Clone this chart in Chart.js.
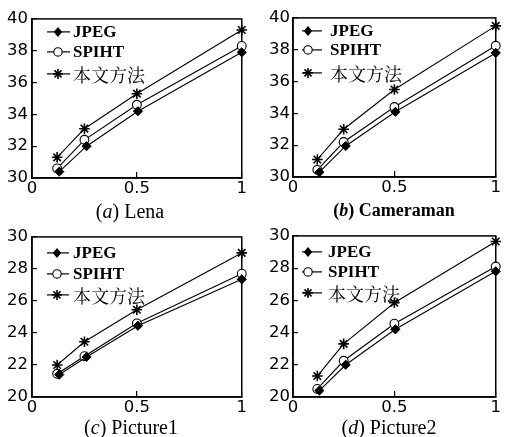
<!DOCTYPE html>
<html><head><meta charset="utf-8">
<script src="https://cdn.jsdelivr.net/npm/chart.js@4.4.1/dist/chart.umd.min.js"></script>
<style>
html,body{margin:0;padding:0;background:#fff}
body{width:508px;height:437px;position:relative;overflow:hidden}
canvas{position:absolute}
.cap{position:absolute;font-family:"Liberation Serif","Times New Roman",serif;font-size:20px;color:#000;white-space:nowrap;transform:translate(-50%,-50%);line-height:1}
</style></head><body>
<canvas id="ca"></canvas>
<canvas id="cb"></canvas>
<canvas id="cc"></canvas>
<canvas id="cd"></canvas>
<div class="cap" style="left:130px;top:211px">(<i>a</i>) Lena</div>
<div class="cap" style="left:394px;top:210px;font-weight:bold;font-size:18px">(<i>b</i>) Cameraman</div>
<div class="cap" style="left:131px;top:427px">(<i>c</i>) Picture1</div>
<div class="cap" style="left:389px;top:427px">(<i>d</i>) Picture2</div>
<script>
// ---- data ----
const seriesNames = ['JPEG', 'SPIHT', '本文方法'];
const xJPEG  = [0.13, 0.26, 0.505, 1];
const xOther = [0.12, 0.25, 0.5, 1];

const lenaJPEG  = [30.4, 32.0, 34.2, 37.9];
const lenaSPIHT = [30.6, 32.4, 34.6, 38.3];
const lenaOurs  = [31.3, 33.1, 35.3, 39.3];

const camJPEG  = [30.3, 31.95, 34.1, 37.8];
const camSPIHT = [30.45, 32.2, 34.4, 38.25];
const camOurs  = [31.1, 33.0, 35.5, 39.5];

const pic1JPEG  = [21.4, 22.5, 24.45, 27.35];
const pic1SPIHT = [21.45, 22.55, 24.6, 27.7];
const pic1Ours  = [22.0, 23.45, 25.45, 29.0];

const pic2JPEG  = [20.4, 22.0, 24.2, 27.8];
const pic2SPIHT = [20.5, 22.25, 24.55, 28.1];
const pic2Ours  = [21.3, 23.3, 25.85, 29.65];

const topYRange = [30, 40];
const bottomYRange = [20, 30];
const yStep = 2;
const xRange = [0, 1];
const xStep = 0.5;
const xTickLabels = { 0: '0', 0.5: '0.5', 1: '1' };

// ---- helpers ----
function drawMarker(g, kind, mx, cy) {
  const r = 5;
  g.save();
  g.strokeStyle = '#000'; g.fillStyle = '#000';
  if (kind === 0) {
    g.beginPath(); g.moveTo(mx, cy - r); g.lineTo(mx + r * 0.85, cy); g.lineTo(mx, cy + r); g.lineTo(mx - r * 0.85, cy); g.closePath(); g.fill();
  } else if (kind === 1) {
    g.beginPath(); g.arc(mx, cy, 4.2, 0, Math.PI * 2); g.fillStyle = '#fff'; g.fill(); g.lineWidth = 1.1; g.stroke();
  } else {
    g.lineWidth = 1.6;
    for (let k = 0; k < 4; k++) {
      const a = k * Math.PI / 4;
      g.beginPath(); g.moveTo(mx - Math.cos(a) * r, cy - Math.sin(a) * r); g.lineTo(mx + Math.cos(a) * r, cy + Math.sin(a) * r); g.stroke();
    }
  }
  g.restore();
}

const boxPlugin = {
  id: 'box',
  beforeDatasetsDraw(chart) {
    const a = chart.chartArea, g = chart.ctx;
    g.save(); g.strokeStyle = '#000'; g.lineWidth = 1.5;
    g.strokeRect(a.left, a.top, a.right - a.left, a.bottom - a.top);
    g.restore();
  }
};

const insideLegend = {
  id: 'insideLegend',
  beforeDatasetsDraw(chart, args, o) {
    const a = chart.chartArea, g = chart.ctx;
    g.save();
    chart.data.datasets.forEach((ds, i) => {
      const y = a.top + o.rows[i];
      g.strokeStyle = '#000'; g.lineWidth = 1.2;
      g.beginPath(); g.moveTo(a.left + o.l0, y); g.lineTo(a.left + o.l1, y); g.stroke();
      drawMarker(g, i, a.left + o.m, y);
      const cjk = /[\u4e00-\u9fff]/.test(ds.label);
      g.font = cjk ? 'normal 18px "Noto Serif CJK SC","Noto Sans CJK SC",serif'
                   : 'bold 17px "Liberation Serif","Times New Roman",serif';
      g.fillStyle = '#000'; g.textBaseline = 'middle'; g.textAlign = 'left';
      g.fillText(ds.label, a.left + o.tx, y + 1);
    });
    g.restore();
  }
};

const tickFont = { family: '"DejaVu Sans",Arial,sans-serif', size: 16.5 };

function makeChart(id, p, vals, yRange) {
  const cv = document.getElementById(id);
  cv.width = p.w; cv.height = p.h;
  cv.style.left = p.left + 'px'; cv.style.top = p.top + 'px';
  cv.style.width = p.w + 'px'; cv.style.height = p.h + 'px';
  const common = { borderColor: '#000', borderWidth: 1.1, pointBorderColor: '#000', clip: false, tension: 0 };
  new Chart(cv, {
    type: 'line',
    data: {
      datasets: [
        Object.assign({ label: seriesNames[0], data: xJPEG.map((x, i) => ({ x, y: vals[0][i] })),
          pointStyle: 'rectRot', pointRadius: 4.6, pointBackgroundColor: '#000', pointBorderWidth: 1 }, common),
        Object.assign({ label: seriesNames[1], data: xOther.map((x, i) => ({ x, y: vals[1][i] })),
          pointStyle: 'circle', pointRadius: 4.4, pointBackgroundColor: '#fff', pointBorderWidth: 1.1 }, common),
        Object.assign({ label: seriesNames[2], data: xOther.map((x, i) => ({ x, y: vals[2][i] })),
          pointStyle: 'star', pointRadius: 5.3, pointBackgroundColor: '#000', pointBorderWidth: 1.6 }, common)
      ]
    },
    options: {
      responsive: false, animation: false, devicePixelRatio: 1,
      layout: { padding: { top: p.padTop, right: p.padRight, left: 0, bottom: 0 } },
      plugins: {
        tooltip: { enabled: false },
        legend: { display: false },
        insideLegend: p.legend
      },
      scales: {
        x: {
          type: 'linear', min: xRange[0], max: xRange[1],
          ticks: { stepSize: xStep, color: '#000', padding: 7, maxRotation: 0,
            callback: v => (xTickLabels[v] !== undefined ? xTickLabels[v] : ''),
            font: tickFont },
          grid: { drawOnChartArea: false, drawTicks: true, tickLength: -6, color: '#000', lineWidth: 1.2 },
          border: { display: true, color: '#000', width: 1.5 },
          afterFit: s => { s.height = 22; }
        },
        y: {
          type: 'linear', min: yRange[0], max: yRange[1],
          ticks: { stepSize: yStep, color: '#000', padding: p.yPad, font: tickFont },
          grid: { drawOnChartArea: false, drawTicks: true, tickLength: -5, color: '#000', lineWidth: 1.2 },
          border: { display: true, color: '#000', width: 1.5 },
          afterFit: s => { s.width = p.yw; }
        }
      }
    },
    plugins: [boxPlugin, insideLegend]
  });
}

const legA = { l0: 15, l1: 38, m: 26, tx: 41, rows: [13, 33, 55] };
const legB = { l0: 9, l1: 29, m: 15, tx: 37, rows: [13, 32, 55] };
const legC = { l0: 15, l1: 37, m: 25, tx: 41, rows: [16, 37, 58] };
const legD = { l0: 9, l1: 29, m: 15, tx: 35, rows: [16, 36, 57] };

makeChart('ca', { left: 0, top: 0, w: 254, h: 200, yw: 32, padRight: 11, padTop: 16, yPad: 9, legend: legA },
  [lenaJPEG, lenaSPIHT, lenaOurs], topYRange);
makeChart('cb', { left: 254, top: 0, w: 254, h: 199, yw: 39, padRight: 4, padTop: 16, yPad: 8, legend: legB },
  [camJPEG, camSPIHT, camOurs], topYRange);
makeChart('cc', { left: 0, top: 218, w: 254, h: 201, yw: 32, padRight: 11, padTop: 16, yPad: 9, legend: legC },
  [pic1JPEG, pic1SPIHT, pic1Ours], bottomYRange);
makeChart('cd', { left: 254, top: 218, w: 254, h: 201, yw: 39, padRight: 4, padTop: 16, yPad: 8, legend: legD },
  [pic2JPEG, pic2SPIHT, pic2Ours], bottomYRange);
</script>
</body></html>
